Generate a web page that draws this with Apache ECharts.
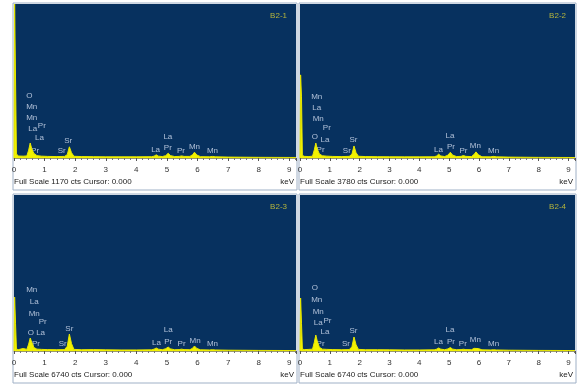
<!DOCTYPE html>
<html>
<head>
<meta charset="utf-8">
<script src="https://cdn.jsdelivr.net/npm/echarts@6/dist/echarts.min.js"></script>
<style>
  html, body { margin: 0; padding: 0; background: #fff; }
  #chart { width: 579px; height: 385px; }
</style>
</head>
<body>
<div id="chart"></div>
<script>
// energy grid (keV), shared by all four spectra
const kev = [0, 0.02, 0.05, 0.08, 0.15, 0.3, 0.42, 0.48, 0.53, 0.58, 0.65, 0.75, 0.9, 1.1, 1.4, 1.65, 1.74, 1.81, 1.88, 1.96,
  2.2, 2.6, 3.0, 3.5, 4.0, 4.5, 4.58, 4.65, 4.72, 4.85, 4.96, 5.04, 5.12, 5.25, 5.4, 5.48, 5.56, 5.75, 5.84, 5.9,
  5.98, 6.1, 6.4, 6.49, 6.58, 7.0, 8.0, 9.22];

// counts per panel
const cts1 = [0, 1170, 1170, 30, 15, 14, 16, 60, 114, 70, 35, 18, 14, 12, 11, 12, 25, 85, 40, 13,
  11, 10, 9, 9, 9, 10, 14, 24, 14, 11, 18, 36, 18, 11, 12, 16, 12, 12, 25, 44,
  22, 10, 9, 12, 9, 7, 5, 4];
const cts2 = [0, 2040, 1500, 60, 40, 35, 45, 200, 368, 220, 100, 55, 45, 38, 35, 40, 90, 295, 130, 42,
  35, 32, 30, 28, 28, 30, 50, 95, 50, 35, 70, 140, 70, 35, 40, 60, 40, 35, 90, 150,
  80, 30, 28, 40, 28, 22, 15, 12];
const cts3 = [0, 2330, 1200, 80, 60, 110, 70, 300, 560, 380, 150, 80, 70, 60, 55, 60, 200, 735, 320, 70,
  55, 60, 50, 45, 45, 50, 80, 130, 80, 55, 100, 170, 90, 55, 60, 80, 60, 55, 120, 215,
  110, 50, 45, 55, 45, 35, 25, 20];
const cts4 = [0, 2290, 1200, 80, 60, 70, 80, 380, 690, 420, 160, 80, 70, 60, 55, 60, 180, 605, 270, 70,
  55, 55, 50, 45, 45, 50, 80, 130, 80, 55, 90, 150, 80, 55, 60, 75, 60, 55, 115, 200,
  105, 50, 45, 55, 45, 35, 25, 20];

const fullScale = [1170, 3780, 6740, 6740];
const names = ['B2-1', 'B2-2', 'B2-3', 'B2-4'];
const ticks = [0, 1, 2, 3, 4, 5, 6, 7, 8, 9];

// element markers: [text, keV, row]
const marks1 = [['O', 0.50, 5], ['Mn', 0.58, 4], ['Mn', 0.58, 3], ['La', 0.61, 2.06], ['Pr', 0.91, 2.27],
  ['La', 0.83, 1.2], ['Pr', 0.69, 0], ['Sr', 1.56, 0], ['Sr', 1.77, 0.9], ['La', 4.63, 0.1], ['La', 5.03, 1.3],
  ['Pr', 5.03, 0.33], ['Pr', 5.46, 0], ['Mn', 5.9, 0.36], ['Mn', 6.49, 0]];
const marks2 = [['Mn', 0.56, 4.9], ['La', 0.56, 3.9], ['Mn', 0.61, 2.9], ['Pr', 0.90, 2.15], ['O', 0.50, 1.3],
  ['La', 0.84, 1.06], ['Pr', 0.69, 0.09], ['Sr', 1.57, 0], ['Sr', 1.79, 1.0], ['La', 4.64, 0.09], ['La', 5.03, 1.36],
  ['Pr', 5.06, 0.39], ['Pr', 5.48, 0.02], ['Mn', 5.88, 0.45], ['Mn', 6.49, 0]];
const marks3 = [['Mn', 0.58, 4.84], ['La', 0.66, 3.79], ['Mn', 0.66, 2.74], ['Pr', 0.94, 1.99], ['O', 0.55, 0.95],
  ['La', 0.87, 0.95], ['Pr', 0.72, 0], ['Sr', 1.59, 0], ['Sr', 1.81, 1.31], ['La', 4.66, 0.1], ['La', 5.04, 1.25],
  ['Pr', 5.04, 0.2], ['Pr', 5.48, 0], ['Mn', 5.92, 0.26], ['Mn', 6.49, 0]];
const marks4 = [['O', 0.50, 4.99], ['Mn', 0.56, 3.94], ['Mn', 0.61, 2.89], ['La', 0.61, 1.9], ['Pr', 0.92, 2.08],
  ['La', 0.84, 1.04], ['Pr', 0.69, 0.05], ['Sr', 1.54, 0], ['Sr', 1.79, 1.18], ['La', 4.64, 0.2], ['La', 5.03, 1.25],
  ['Pr', 5.06, 0.2], ['Pr', 5.46, 0.05], ['Mn', 5.88, 0.35], ['Mn', 6.49, 0]];

const spectra = [cts1, cts2, cts3, cts4];
const marks = [marks1, marks2, marks3, marks4];

const FONT = '"Liberation Sans", Arial, sans-serif';
const panels = [ // plot area boxes
  { left: 14, top: 4, width: 282, height: 154 },
  { left: 300, top: 4, width: 275, height: 154 },
  { left: 14, top: 195, width: 282, height: 156 },
  { left: 300, top: 195, width: 275, height: 156 }
];

const grid = [], xAxis = [], yAxis = [], series = [], title = [], graphic = [];

panels.forEach((p, i) => {
  grid.push({ ...p, show: true, backgroundColor: '#07315F', borderWidth: 0 });
  xAxis.push({
    gridIndex: i, type: 'value', min: 0, max: 9.22, interval: 1,
    axisLine: { lineStyle: { color: '#9a9a6a', width: 1 } },
    axisTick: { length: 3, lineStyle: { color: '#555' } },
    minorTick: { show: true, splitNumber: 5, length: 2, lineStyle: { color: '#777' } },
    splitLine: { show: false },
    axisLabel: {
      fontSize: 8, color: '#333', fontFamily: FONT, margin: 8,
      formatter: v => ticks.includes(v) ? String(v) : ''
    }
  });
  yAxis.push({ gridIndex: i, type: 'value', min: 0, max: fullScale[i], show: false });
  yAxis.push({ gridIndex: i, type: 'value', min: 0, max: 14, show: false });

  series.push({
    type: 'line', xAxisIndex: i, yAxisIndex: i * 2,
    data: kev.map((k, j) => [k, spectra[i][j]]),
    symbol: 'none', silent: true,
    lineStyle: { color: '#E8E800', width: 1 },
    areaStyle: { color: '#F2F200', opacity: 1 }
  });
  series.push({
    type: 'scatter', xAxisIndex: i, yAxisIndex: i * 2 + 1,
    symbolSize: 1, itemStyle: { color: 'rgba(0,0,0,0)' }, silent: true,
    data: marks[i].map(m => ({ name: m[0], value: [m[1], m[2] + 0.64] })),
    label: {
      show: true, position: 'inside', formatter: '{b}',
      fontSize: 8, color: '#D6E0F2', fontFamily: FONT
    }
  });

  title.push({
    text: names[i], right: 579 - (p.left + p.width) + 4, top: p.top + 3,
    textStyle: { fontSize: 8, color: '#B4B43C', fontWeight: 'normal', fontFamily: FONT }
  });

  const bottom = p.top + p.height;
  graphic.push({
    type: 'rect', silent: true,
    shape: { x: p.left - 1, y: p.top - 1, width: p.width + 2, height: bottom + 33 - p.top },
    style: { fill: null, stroke: '#9FB0C6', lineWidth: 1 }
  });
  graphic.push({
    type: 'text', left: p.left, top: bottom + 20,
    style: { text: 'Full Scale ' + fullScale[i] + ' cts Cursor: 0.000', fill: '#222', font: '8px ' + FONT }
  });
  graphic.push({
    type: 'text', right: 579 - (p.left + p.width) + 2, top: bottom + 20,
    style: { text: 'keV', fill: '#222', font: '8px ' + FONT }
  });
});

const chart = echarts.init(document.getElementById('chart'));
chart.setOption({
  animation: false,
  backgroundColor: '#fff',
  title, grid, xAxis, yAxis, series, graphic
});
</script>
</body>
</html>
